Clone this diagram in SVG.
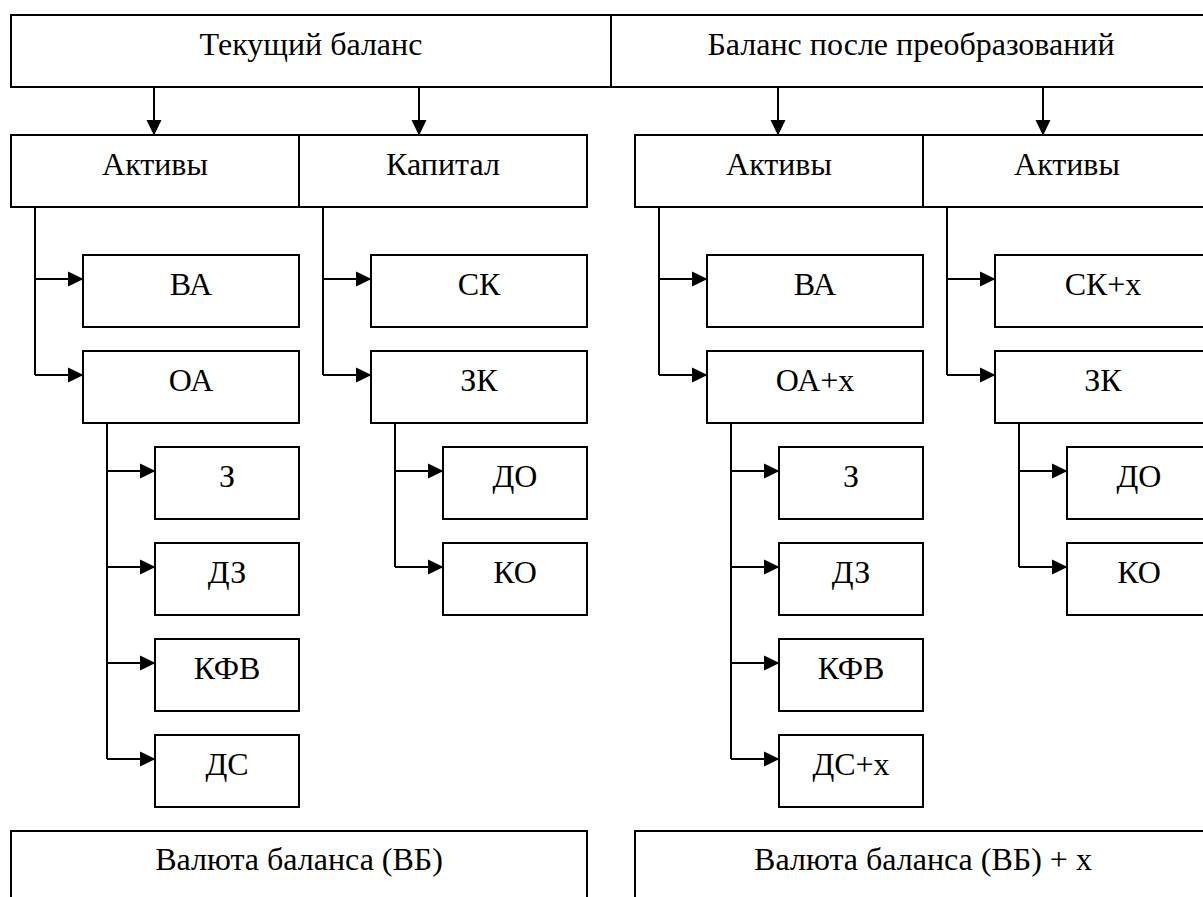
<svg xmlns="http://www.w3.org/2000/svg" width="1203" height="897" viewBox="0 0 1203 897">
<style>
rect{fill:#fff;stroke:#000;stroke-width:2}
text{font-family:"Liberation Serif","Times New Roman","DejaVu Serif",serif;font-size:32px;fill:#000;text-anchor:middle}
.c path{fill:none;stroke:#000;stroke-width:2}
</style>
<defs>
<marker id="a" markerUnits="userSpaceOnUse" markerWidth="16" markerHeight="16" viewBox="0 0 16 16" refX="15" refY="8" orient="auto">
<path d="M0,0.5 L15.5,8 L0,15.5 Z" fill="#000"/>
</marker>
</defs>
<rect x="0" y="0" width="1203" height="897" style="stroke:none"/>
<g id="n-top-left"><rect x="11" y="15" width="600" height="72"/><text x="311" y="55">Текущий баланс</text></g>
<g id="n-top-right"><rect x="611" y="15" width="620" height="72"/><text x="911" y="55">Баланс после преобразований</text></g>
<g id="n-aktivy-l"><rect x="11" y="135" width="288" height="72"/><text x="155" y="175">Активы</text></g>
<g id="n-kapital-l"><rect x="299" y="135" width="288" height="72"/><text x="443" y="175">Капитал</text></g>
<g id="n-aktivy-r"><rect x="635" y="135" width="288" height="72"/><text x="779" y="175">Активы</text></g>
<g id="n-aktivy-r2"><rect x="923" y="135" width="300" height="72"/><text x="1067" y="175">Активы</text></g>
<g id="n-va-l"><rect x="83" y="255" width="216" height="72"/><text x="191" y="295">ВА</text></g>
<g id="n-oa-l"><rect x="83" y="351" width="216" height="72"/><text x="191" y="391">ОА</text></g>
<g id="n-sk-l"><rect x="371" y="255" width="216" height="72"/><text x="479" y="295">СК</text></g>
<g id="n-zk-l"><rect x="371" y="351" width="216" height="72"/><text x="479" y="391">ЗК</text></g>
<g id="n-z-l"><rect x="155" y="447" width="144" height="72"/><text x="227" y="487">З</text></g>
<g id="n-dz-l"><rect x="155" y="543" width="144" height="72"/><text x="227" y="583">ДЗ</text></g>
<g id="n-kfv-l"><rect x="155" y="639" width="144" height="72"/><text x="227" y="679">КФВ</text></g>
<g id="n-ds-l"><rect x="155" y="735" width="144" height="72"/><text x="227" y="775">ДС</text></g>
<g id="n-do-l"><rect x="443" y="447" width="144" height="72"/><text x="515" y="487">ДО</text></g>
<g id="n-ko-l"><rect x="443" y="543" width="144" height="72"/><text x="515" y="583">КО</text></g>
<g id="n-va-r"><rect x="707" y="255" width="216" height="72"/><text x="815" y="295">ВА</text></g>
<g id="n-oa-r"><rect x="707" y="351" width="216" height="72"/><text x="815" y="391">ОА+х</text></g>
<g id="n-sk-r"><rect x="995" y="255" width="216" height="72"/><text x="1103" y="295">СК+х</text></g>
<g id="n-zk-r"><rect x="995" y="351" width="216" height="72"/><text x="1103" y="391">ЗК</text></g>
<g id="n-z-r"><rect x="779" y="447" width="144" height="72"/><text x="851" y="487">З</text></g>
<g id="n-dz-r"><rect x="779" y="543" width="144" height="72"/><text x="851" y="583">ДЗ</text></g>
<g id="n-kfv-r"><rect x="779" y="639" width="144" height="72"/><text x="851" y="679">КФВ</text></g>
<g id="n-ds-r"><rect x="779" y="735" width="144" height="72"/><text x="851" y="775">ДС+х</text></g>
<g id="n-do-r"><rect x="1067" y="447" width="144" height="72"/><text x="1139" y="487">ДО</text></g>
<g id="n-ko-r"><rect x="1067" y="543" width="144" height="72"/><text x="1139" y="583">КО</text></g>
<g id="n-vb-l"><rect x="11" y="831" width="576" height="90"/><text x="299" y="870">Валюта баланса (ВБ)</text></g>
<g id="n-vb-r"><rect x="635" y="831" width="576" height="90"/><text x="923" y="870">Валюта баланса (ВБ) + х</text></g>
<g class="c" id="connectors">
<path d="M154,87 V135" marker-end="url(#a)"/>
<path d="M419,87 V135" marker-end="url(#a)"/>
<path d="M778,87 V135" marker-end="url(#a)"/>
<path d="M1043,87 V135" marker-end="url(#a)"/>
<path d="M35,207 V375"/>
<path d="M35,279 H83" marker-end="url(#a)"/>
<path d="M35,375 H83" marker-end="url(#a)"/>
<path d="M323,207 V375"/>
<path d="M323,279 H371" marker-end="url(#a)"/>
<path d="M323,375 H371" marker-end="url(#a)"/>
<path d="M107,423 V759"/>
<path d="M107,471 H155" marker-end="url(#a)"/>
<path d="M107,567 H155" marker-end="url(#a)"/>
<path d="M107,663 H155" marker-end="url(#a)"/>
<path d="M107,759 H155" marker-end="url(#a)"/>
<path d="M395,423 V567"/>
<path d="M395,471 H443" marker-end="url(#a)"/>
<path d="M395,567 H443" marker-end="url(#a)"/>
<path d="M659,207 V375"/>
<path d="M659,279 H707" marker-end="url(#a)"/>
<path d="M659,375 H707" marker-end="url(#a)"/>
<path d="M947,207 V375"/>
<path d="M947,279 H995" marker-end="url(#a)"/>
<path d="M947,375 H995" marker-end="url(#a)"/>
<path d="M731,423 V759"/>
<path d="M731,471 H779" marker-end="url(#a)"/>
<path d="M731,567 H779" marker-end="url(#a)"/>
<path d="M731,663 H779" marker-end="url(#a)"/>
<path d="M731,759 H779" marker-end="url(#a)"/>
<path d="M1019,423 V567"/>
<path d="M1019,471 H1067" marker-end="url(#a)"/>
<path d="M1019,567 H1067" marker-end="url(#a)"/>
</g>
</svg>
